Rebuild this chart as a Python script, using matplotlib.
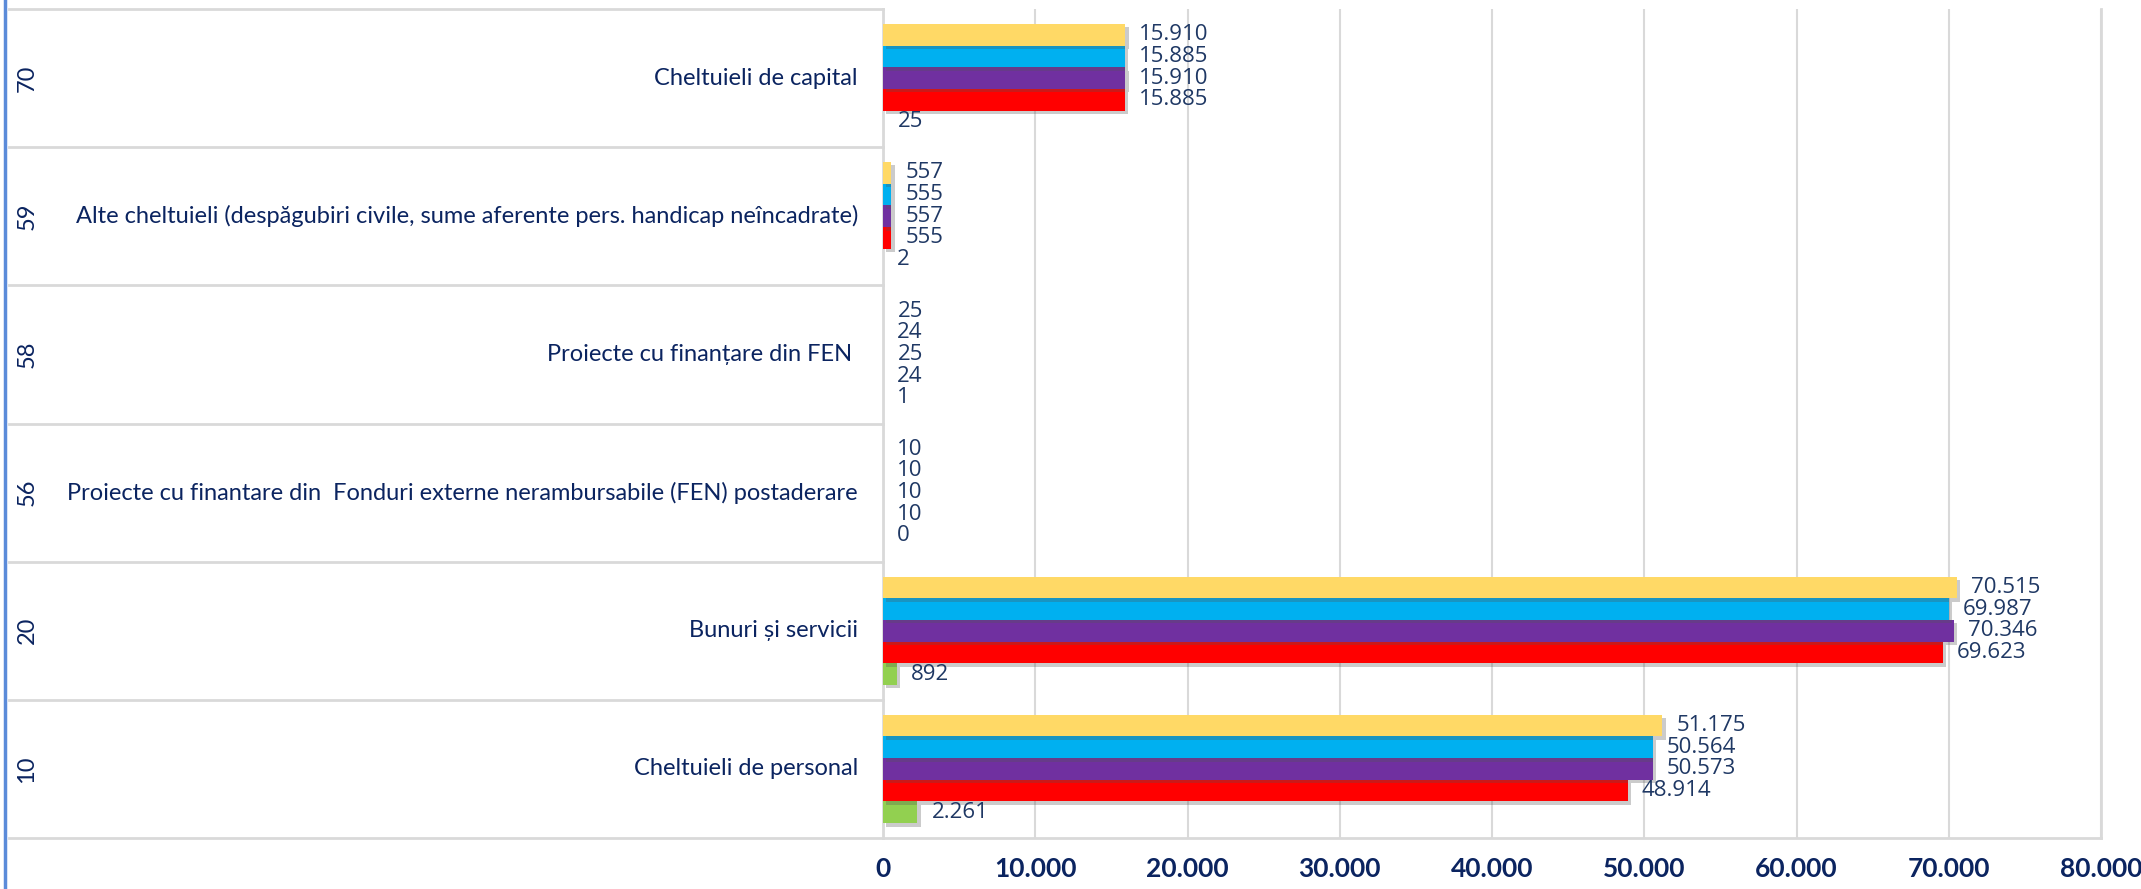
import numpy as np
import matplotlib
matplotlib.use("Agg")
from matplotlib import pyplot as plt
from matplotlib import patheffects as pe
from matplotlib.lines import Line2D
from matplotlib.ticker import FuncFormatter

# categories bottom -> top
codes = ["10", "20", "56", "58", "59", "70"]
names = [
    "Cheltuieli de personal",
    "Bunuri și servicii",
    "Proiecte cu finantare din  Fonduri externe nerambursabile (FEN) postaderare",
    "Proiecte cu finanțare din FEN ",
    "Alte cheltuieli (despăgubiri civile, sume aferente pers. handicap neîncadrate)",
    "Cheltuieli de capital",
]

# series drawn bottom -> top inside each group
green_vals = [2261, 892, 0, 1, 2, 25]
red_vals = [48914, 69623, 10, 24, 555, 15885]
purple_vals = [50573, 70346, 10, 25, 557, 15910]
blue_vals = [50564, 69987, 10, 24, 555, 15885]
yellow_vals = [51175, 70515, 10, 25, 557, 15910]

series = [green_vals, red_vals, purple_vals, blue_vals, yellow_vals]
colors = ["#92D050", "#FF0000", "#7030A0", "#00B0F0", "#FFD966"]

navy = "#1F3864"
tick_navy = "#0B2460"
grid_gray = "#D9D9D9"
name_font = "Lato"

W, H = 2141, 889
fig = plt.figure(figsize=(W / 100, H / 100), dpi=100)
left, right, top, bottom = 883, 2101, 9, 838
ax = fig.add_axes([left / W, 1 - bottom / H, (right - left) / W, (bottom - top) / H])

y = np.arange(len(codes))
bar_h = 0.157
shadow = [pe.SimplePatchShadow(offset=(2.5, -2.5), alpha=0.3, shadow_rgbFace="#555555"), pe.Normal()]

for i, (vals, col) in enumerate(zip(series, colors)):
    pos = y - 2 * bar_h + i * bar_h
    bars = ax.barh(pos, vals, height=bar_h, color=col, zorder=3)
    for b, v in zip(bars, vals):
        if v > 100:
            b.set_path_effects(shadow)
    for p, v in zip(pos, vals):
        ax.annotate(f"{v:,}".replace(",", "."), (v, p), xytext=(14, 0),
                    textcoords="offset pixels", va="center", ha="left",
                    fontsize=16, color=navy, family="Open Sans", zorder=4)

ax.set_xlim(0, 80000)
ax.set_ylim(-0.5, len(codes) - 0.5)
ax.set_xticks(np.arange(0, 80001, 10000))
ax.xaxis.set_major_formatter(FuncFormatter(lambda v, _: f"{int(v):,}".replace(",", ".")))
ax.tick_params(axis="x", length=0, pad=14, labelsize=19, labelcolor=tick_navy)
for lab in ax.get_xticklabels():
    lab.set_family(name_font)
    lab.set_fontweight("bold")
ax.set_yticks([])
ax.grid(axis="x", color=grid_gray, linewidth=1.5, zorder=0)

ax.spines["top"].set_visible(False)
for s in ["left", "bottom", "right"]:
    ax.spines[s].set_color(grid_gray)
    ax.spines[s].set_linewidth(2)

# left category table
tr = ax.get_yaxis_transform()
x_table = (9 - left) / (right - left)
x_code = (27 - left) / (right - left)
x_name = (858 - left) / (right - left)
for k in range(len(codes) + 1):
    ax.plot([x_table, 0], [k - 0.5, k - 0.5], transform=tr, color=grid_gray,
            linewidth=2, clip_on=False)
name_texts = []
for k, (c, n) in enumerate(zip(codes, names)):
    ax.text(x_code, k, c, transform=tr, rotation=90, va="center", ha="center",
            fontsize=17, color=tick_navy, family=name_font)
    name_texts.append(ax.text(x_name, k, n, transform=tr, va="center", ha="right",
                              fontsize=17, color=tick_navy, family=name_font))

# shrink names so the longest one fits the table column as in the original
renderer = fig.canvas.get_renderer()
widest = max(t.get_window_extent(renderer).width for t in name_texts)
target = 858 - 52
if widest > target:
    size = 17 * target / widest
    for t in name_texts:
        t.set_fontsize(size)

fig.add_artist(Line2D([5 / W, 5 / W], [0, 1], color="#5B8BD9", linewidth=2.5))

plt.savefig("out.png", dpi=100)
